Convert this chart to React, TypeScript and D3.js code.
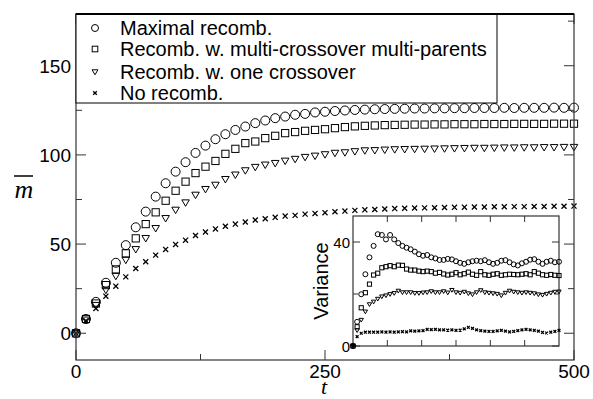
import React from "react";
import * as d3 from "d3";

// Main plot: t = 0..500 step 10
const tMain = d3.range(0, 501, 10);
const maximal = [0, 8, 17.6, 28.3, 39.5, 49.4, 59.4, 68.2, 76.6, 84.1, 90.6, 95.9, 101.1, 105.2, 108.8, 111.6, 114, 115.9, 117.8, 119.3, 120.6, 121.5, 122.5, 123, 123.8, 124.2, 124.6, 124.9, 125.2, 125.4, 125.6, 125.7, 125.8, 125.9, 126, 126, 126.1, 126.1, 126.2, 126.2, 126.3, 126.3, 126.3, 126.4, 126.3, 126.4, 126.4, 126.4, 126.5, 126.4, 126.5];
const multiCross = [0, 8, 16.7, 27, 35.8, 44.8, 53.2, 61.2, 67.8, 74.3, 79.9, 85, 89.8, 93.4, 96.6, 100.6, 103.4, 106.6, 107.5, 109.4, 110.7, 112.2, 112.8, 113.5, 114, 114.4, 115, 115.6, 116, 116.3, 116.5, 116.7, 116.8, 116.9, 117, 117, 117.1, 117.1, 117.2, 117.2, 117.2, 117.3, 117.3, 117.3, 117.4, 117.4, 117.4, 117.4, 117.5, 117.5, 117.5];
const oneCross = [0, 7.5, 15.7, 24.2, 32, 41, 47, 53.2, 58.8, 64.4, 69.1, 73.2, 77.5, 80.7, 83.1, 86.3, 88.8, 91.2, 93.1, 94.4, 95.3, 96.6, 97.6, 98.7, 99.4, 100.2, 101, 101.3, 101.9, 102.4, 102.5, 102.8, 103, 103.1, 103.2, 103.3, 103.4, 103.5, 103.6, 103.7, 103.8, 103.8, 103.9, 104, 104, 104.1, 104.1, 104.2, 104.2, 104.3, 104.3];
const noRecomb = [0, 7, 13.9, 20.8, 26.4, 31.6, 36.3, 40.1, 43.8, 47, 49.8, 52.2, 54.8, 56.8, 58.5, 60, 61.2, 62.4, 63.5, 64.2, 65, 65.7, 66.1, 66.8, 67.2, 67.6, 68.1, 68.5, 68.9, 69.2, 69.4, 69.7, 69.9, 70.1, 70.2, 70.3, 70.4, 70.5, 70.6, 70.7, 70.8, 70.8, 70.9, 70.9, 71, 71, 71.1, 71.1, 71.2, 71.2, 71.3];

// Inset: variance
const tInset = d3.range(0, 301, 6);
const varMaximal = [0, 9.3, 19.9, 27.6, 34.1, 38.5, 43, 42.7, 41, 42.7, 41, 39.6, 38.5, 37.8, 37.2, 36.3, 35.3, 34.7, 35, 34.1, 33.7, 33.1, 33.1, 33.5, 33.3, 32.6, 32.0, 31.6, 32.2, 32.6, 32.8, 32.6, 33.0, 32.2, 31.6, 32.0, 32.8, 33.0, 32.2, 31.4, 31.0, 31.8, 32.4, 33.2, 33.4, 32.4, 31.6, 32.4, 32.8, 32.2, 32.4];
const varMulti = [0, 7.4, 14.7, 20.5, 23.8, 27.3, 28, 30.1, 30.5, 30.9, 30.5, 31.1, 31, 29.6, 29.2, 29.2, 28.8, 28.6, 28.8, 28.6, 28, 28.3, 27.7, 27.3, 27.6, 28.2, 27.4, 27.8, 28.4, 27.6, 27.2, 28.6, 27.4, 27.2, 27.6, 27.8, 27.2, 27.4, 27.6, 27.5, 27.4, 27.6, 27.8, 27.4, 28.6, 28.0, 27.4, 27.2, 27.5, 27.2, 27.1];
const varOne = [0, 6, 10, 13.2, 16, 17, 18.1, 19, 19.4, 19.9, 20.3, 21.2, 20.6, 20.6, 20.6, 20.3, 20.3, 20.5, 20.6, 21, 20.6, 20.6, 21, 20.5, 21.5, 20.6, 20.4, 20.8, 20.2, 19.8, 20.6, 21.4, 20.6, 20.4, 20.2, 20.0, 19.4, 20.4, 21.2, 20.8, 20.6, 20.4, 20.6, 20.4, 20.2, 19.8, 19.6, 20.0, 20.4, 20.8, 20.9];
const varNo = [0, 3.6, 4.9, 5.3, 5.3, 5.3, 5.3, 5.4, 5.3, 5.4, 5.3, 5.4, 5.5, 5.4, 5.8, 5.7, 5.8, 5.9, 6.4, 6.3, 6.4, 6.2, 6.2, 6.1, 6.2, 6.0, 6.1, 6.6, 7.2, 6.8, 6.2, 5.9, 5.7, 5.6, 5.6, 5.8, 6.0, 5.7, 5.4, 5.6, 5.9, 6.2, 6.4, 6.2, 6.0, 5.7, 5.2, 5.0, 5.3, 5.6, 6.0];

const legendLabels = ["Maximal recomb.", "Recomb. w. multi-crossover multi-parents", "Recomb. w. one crossover", "No recomb."];
const markerTypes = ["circle", "square", "triangle", "cross"];
const xTicksMajor = [0, 250, 500];
const xTicksMinor = [125, 375];
const yTicksMajor = [0, 50, 100, 150];
const yTicksMinor = [25, 75, 125, 175];
const insetXTicks = [50, 100, 150, 200, 250];
const insetYTicksMajor = [0, 40];
const insetYTicksMinor = [20];

function Marker({ type, x, y, s }: { type: string; x: number; y: number; s: number }) {
  const st = { fill: "none", stroke: "#000", strokeWidth: 1 };
  if (type === "circle") return <circle cx={x} cy={y} r={s * 0.5} {...st} />;
  if (type === "square") return <rect x={x - s * 0.4} y={y - s * 0.4} width={s * 0.8} height={s * 0.8} {...st} />;
  if (type === "triangle") {
    const h = s * 0.42;
    return <path d={`M${x - h},${y - h * 0.75}L${x + h},${y - h * 0.75}L${x},${y + h * 0.95}Z`} {...st} />;
  }
  const c = s * 0.28;
  return <path d={`M${x - c},${y - c}L${x + c},${y + c}M${x - c},${y + c}L${x + c},${y - c}`} {...st} strokeWidth={1.3} />;
}

export default function App() {
  const W = 593, H = 399;
  const x = d3.scaleLinear().domain([0, 500]).range([76, 574]);
  const y = d3.scaleLinear().domain([-15, 179]).range([360, 14]);
  const xi = d3.scaleLinear().domain([0, 300]).range([353, 559]);
  const yi = d3.scaleLinear().domain([0, 50]).range([346, 216]);
  const mainSeries = [maximal, multiCross, oneCross, noRecomb];
  const insetSeries = [varMaximal, varMulti, varOne, varNo];
  const mainSizes = [9, 9, 9, 9];
  const insetSizes = [5, 5.2, 5.2, 5];
  const axisColor = "#333";
  const sans = "'Liberation Sans', Arial, Helvetica, sans-serif";
  const serif = "'Liberation Serif', 'Times New Roman', serif";
  const legendRows = [28, 49, 72, 93];

  return (
    <svg width={W} height={H} style={{ position: "absolute", left: 0, top: 0, background: "#fff" }}>
      <rect x={0} y={0} width={W} height={H} fill="#fff" />
      {/* main data */}
      {mainSeries.map((s, k) =>
        s.map((v, i) => <Marker key={`m${k}-${i}`} type={markerTypes[k]} x={x(tMain[i])} y={y(v)} s={mainSizes[k]} />)
      )}
      {/* main frame */}
      <rect x={x(0)} y={y(179)} width={x(500) - x(0)} height={y(-15) - y(179)} fill="none" stroke={axisColor} strokeWidth={1.2} />
      {xTicksMajor.map((t) => (
        <g key={`xt${t}`}>
          <line x1={x(t)} x2={x(t)} y1={360} y2={350} stroke={axisColor} />
          <line x1={x(t)} x2={x(t)} y1={14} y2={24} stroke={axisColor} />
          <text x={x(t)} y={378} textAnchor="middle" fontFamily={sans} fontSize={19}>{t}</text>
        </g>
      ))}
      {xTicksMinor.map((t) => (
        <g key={`xm${t}`}>
          <line x1={x(t)} x2={x(t)} y1={360} y2={354} stroke={axisColor} />
          <line x1={x(t)} x2={x(t)} y1={14} y2={20} stroke={axisColor} />
        </g>
      ))}
      {yTicksMajor.map((t) => (
        <g key={`yt${t}`}>
          <line x1={76} x2={86} y1={y(t)} y2={y(t)} stroke={axisColor} />
          <line x1={574} x2={564} y1={y(t)} y2={y(t)} stroke={axisColor} />
          <text x={71} y={y(t) + 7} textAnchor="end" fontFamily={sans} fontSize={19}>{t}</text>
        </g>
      ))}
      {yTicksMinor.map((t) => (
        <g key={`ym${t}`}>
          <line x1={76} x2={82} y1={y(t)} y2={y(t)} stroke={axisColor} />
          <line x1={574} x2={568} y1={y(t)} y2={y(t)} stroke={axisColor} />
        </g>
      ))}
      {/* axis labels */}
      <text x={324} y={394} textAnchor="middle" fontFamily={serif} fontStyle="italic" fontSize={22}>t</text>
      <text x={24} y={198} textAnchor="middle" fontFamily={serif} fontStyle="italic" fontSize={26}>m</text>
      <line x1={14} x2={33} y1={176} y2={176} stroke="#000" strokeWidth={1.5} />

      {/* legend */}
      <rect x={76} y={14} width={421} height={89} fill="#fff" stroke="#000" strokeWidth={1} />
      <line x1={76} x2={574} y1={14} y2={14} stroke="#000" strokeWidth={2} />
      {legendLabels.map((lab, k) => (
        <g key={`lg${k}`}>
          <Marker type={markerTypes[k]} x={95} y={legendRows[k]} s={k === 3 ? 6.5 : 7} />
          <text x={120} y={legendRows[k] + 7} fontFamily={sans} fontSize={20}>{lab}</text>
        </g>
      ))}

      {/* inset */}
      <rect x={353} y={216} width={206} height={130} fill="#fff" stroke={axisColor} strokeWidth={1.2} />
      {insetXTicks.map((t) => (
        <g key={`ixt${t}`}>
          <line x1={xi(t)} x2={xi(t)} y1={346} y2={340} stroke={axisColor} />
          <line x1={xi(t)} x2={xi(t)} y1={216} y2={222} stroke={axisColor} />
        </g>
      ))}
      {insetYTicksMajor.map((t) => (
        <g key={`iyt${t}`}>
          <line x1={353} x2={360} y1={yi(t)} y2={yi(t)} stroke={axisColor} />
          <line x1={559} x2={552} y1={yi(t)} y2={yi(t)} stroke={axisColor} />
          <text x={350} y={yi(t) + 5.5} textAnchor="end" fontFamily={sans} fontSize={15}>{t}</text>
        </g>
      ))}
      {insetYTicksMinor.map((t) => (
        <g key={`iym${t}`}>
          <line x1={353} x2={358} y1={yi(t)} y2={yi(t)} stroke={axisColor} />
          <line x1={559} x2={554} y1={yi(t)} y2={yi(t)} stroke={axisColor} />
        </g>
      ))}
      {insetSeries.map((s, k) =>
        s.map((v, i) => <Marker key={`i${k}-${i}`} type={markerTypes[k]} x={xi(tInset[i])} y={yi(v)} s={insetSizes[k]} />)
      )}
      <text transform={`translate(328,281) rotate(-90)`} textAnchor="middle" fontFamily={sans} fontSize={20}>Variance</text>
    </svg>
  );
}
